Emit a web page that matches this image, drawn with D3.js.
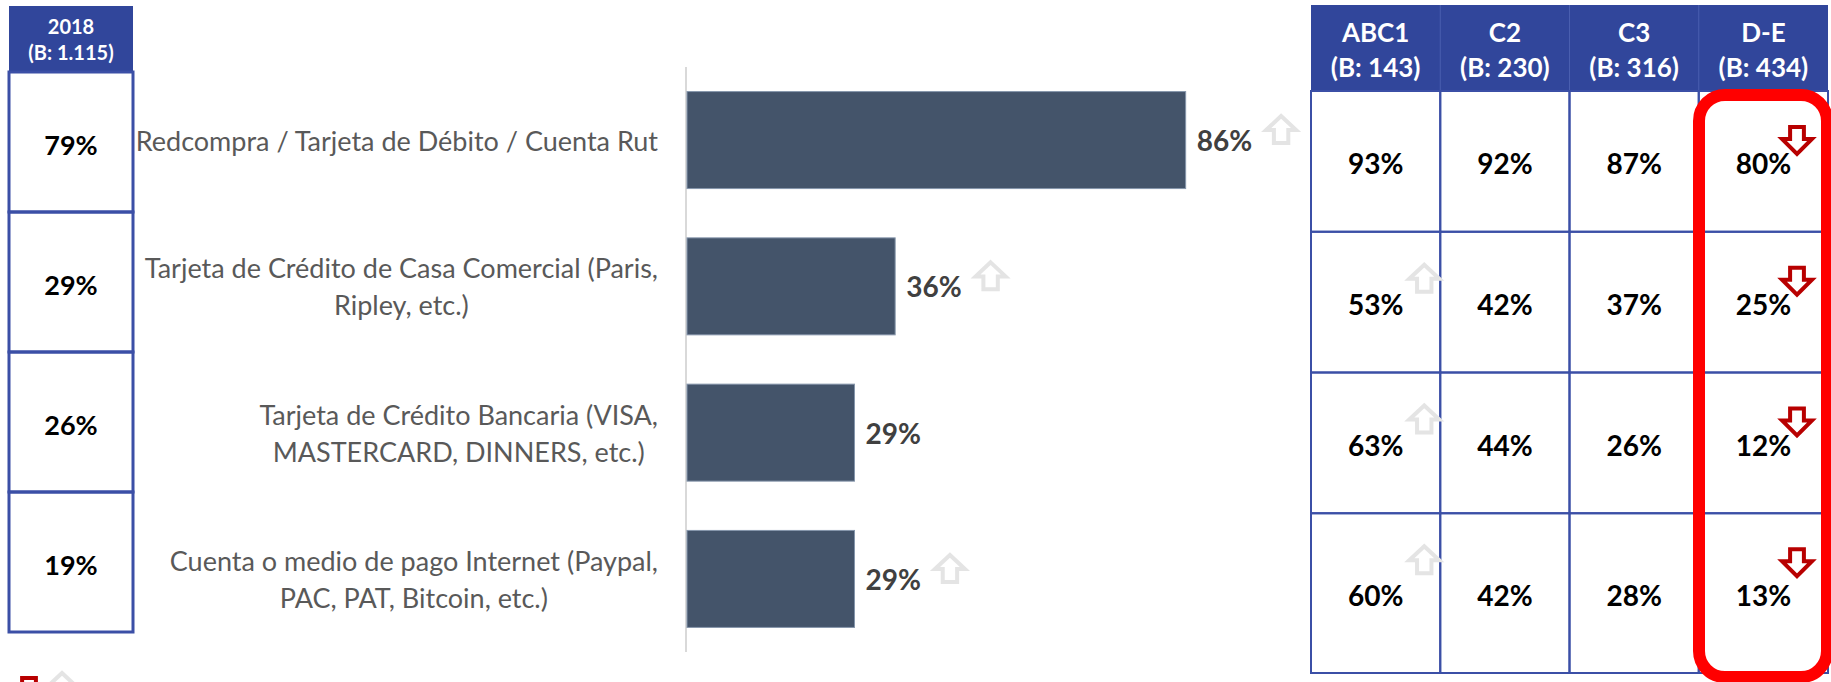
<!DOCTYPE html>
<meta charset="utf-8">
<script src="https://d3js.org/d3.v7.min.js"></script>
<style>
  body { margin: 0; background: #fff; }
  text { font-family: Lato, "Open Sans", sans-serif; }
</style>
<svg id="chart" width="1831" height="682"></svg>
<script>
// ---- data ----
const categories = [
  ["Redcompra / Tarjeta de Débito / Cuenta Rut"],
  ["Tarjeta de Crédito de Casa Comercial (Paris,", "Ripley, etc.)"],
  ["Tarjeta de Crédito Bancaria  (VISA,", "MASTERCARD, DINNERS, etc.)"],
  ["Cuenta o medio de pago Internet (Paypal,", "PAC, PAT, Bitcoin, etc.)"]
];
const values = [86, 36, 29, 29];
const barTrend = ["up", "up", "", "up"];

const prevLabel = ["2018", "(B: 1.115)"];
const prevValues = [79, 29, 26, 19];

const segments = ["ABC1", "C2", "C3", "D-E"];
const segmentBases = ["(B: 143)", "(B: 230)", "(B: 316)", "(B: 434)"];
const segmentValues = [
  [93, 92, 87, 80],
  [53, 42, 37, 25],
  [63, 44, 26, 12],
  [60, 42, 28, 13]
];
const segmentTrend = [
  ["", "", "", "down"],
  ["up", "", "", "down"],
  ["up", "", "", "down"],
  ["up", "", "", "down"]
];

// ---- setup ----
const svg = d3.select("#chart");
const blue = "#31469b", line = "#3b4fa6";
const pct = d => d + "%";

// block arrow, drawn from top-left corner
function arrowPath(w, h, dir) {
  const p = d3.path();
  if (dir === "up") {
    p.moveTo(w / 2, 0); p.lineTo(w, h * 0.52); p.lineTo(w * 0.74, h * 0.52);
    p.lineTo(w * 0.74, h); p.lineTo(w * 0.26, h); p.lineTo(w * 0.26, h * 0.52);
    p.lineTo(0, h * 0.52);
  } else {
    p.moveTo(w * 0.27, 0); p.lineTo(w * 0.73, 0); p.lineTo(w * 0.73, h * 0.44);
    p.lineTo(w, h * 0.44); p.lineTo(w / 2, h); p.lineTo(0, h * 0.44);
    p.lineTo(w * 0.27, h * 0.44);
  }
  p.closePath();
  return p.toString();
}
function drawArrow(g, x, y, dir) {
  g.append("path")
    .attr("transform", `translate(${x},${y})`)
    .attr("d", arrowPath(30, 27, dir))
    .attr("fill", "#fff")
    .attr("stroke", dir === "up" ? "#e4e4e4" : "#b80000")
    .attr("stroke-width", 4)
    .attr("stroke-linejoin", "miter");
}

// ---- bar chart ----
const x = d3.scaleLinear().domain([0, 100]).range([686, 1267]);
const y = d3.scaleBand().domain(d3.range(values.length)).range([67, 652]).paddingInner(0.337).paddingOuter(0.168);

svg.append("line")
  .attr("x1", x(0)).attr("x2", x(0)).attr("y1", 67).attr("y2", 652)
  .attr("stroke", "#d9d9d9").attr("stroke-width", 2);

const bars = svg.append("g");
bars.selectAll("rect")
  .data(values)
  .join("rect")
    .attr("x", x(0) + 1)
    .attr("y", (d, i) => y(i))
    .attr("width", d => x(d) - x(0) - 1)
    .attr("height", y.bandwidth())
    .attr("fill", "#44546a")
    .attr("stroke", "#8696ab")
    .attr("stroke-width", 1);

values.forEach((v, i) => {
  const cy = y(i) + y.bandwidth() / 2;
  const t = bars.append("text")
    .attr("x", x(v) + 11).attr("y", cy)
    .attr("dominant-baseline", "central")
    .attr("font-size", 28).attr("font-weight", 700)
    .attr("fill", "#404040")
    .text(pct(v));
  if (barTrend[i]) {
    const end = x(v) + 11 + t.node().getComputedTextLength();
    drawArrow(bars, end + 14, cy - 24, barTrend[i]);
  }
});

// category labels: block right-aligned at the axis, lines centred in the block
const labels = svg.append("g");
categories.forEach((lines, i) => {
  const cy = y(i) + y.bandwidth() / 2;
  const lh = 37;
  const g = labels.append("g");
  const ts = lines.map((s, k) => g.append("text")
    .attr("y", cy + (k - (lines.length - 1) / 2) * lh)
    .attr("dominant-baseline", "central")
    .attr("text-anchor", "middle")
    .attr("font-size", 27)
    .attr("fill", "#595959")
    .text(s));
  const wMax = d3.max(ts, t => t.node().getComputedTextLength());
  ts.forEach(t => t.attr("x", 658 - wMax / 2));
});

// ---- 2018 column ----
const left = svg.append("g");
const lx0 = 9, lx1 = 133;
const ly = d3.scaleBand().domain(d3.range(prevValues.length)).range([72, 632]);
left.append("rect").attr("x", lx0).attr("y", 6).attr("width", lx1 - lx0).attr("height", 66).attr("fill", blue);
prevLabel.forEach((s, k) => left.append("text")
  .attr("x", (lx0 + lx1) / 2).attr("y", 26 + k * 26)
  .attr("text-anchor", "middle").attr("dominant-baseline", "central")
  .attr("font-size", 20).attr("font-weight", 700).attr("fill", "#fff").text(s));
left.selectAll("rect.cell")
  .data(prevValues)
  .join("rect")
    .attr("class", "cell")
    .attr("x", lx0).attr("y", (d, i) => ly(i))
    .attr("width", lx1 - lx0).attr("height", ly.bandwidth())
    .attr("fill", "none").attr("stroke", line).attr("stroke-width", 3);
left.selectAll("text.val")
  .data(prevValues)
  .join("text")
    .attr("class", "val")
    .attr("x", (lx0 + lx1) / 2).attr("y", (d, i) => ly(i) + ly.bandwidth() / 2 + 2)
    .attr("text-anchor", "middle").attr("dominant-baseline", "central")
    .attr("font-size", 27).attr("font-weight", 700).attr("fill", "#000")
    .text(pct);

// ---- segment table ----
const tbl = svg.append("g");
const cx = d3.scaleBand().domain(d3.range(segments.length)).range([1311, 1828]);
const ry = d3.scaleBand().domain(d3.range(segmentValues.length)).range([91, 654]);
const rowTop = i => ry(i);
const rowBot = i => i === segmentValues.length - 1 ? 673 : ry(i) + ry.bandwidth();

tbl.append("rect").attr("x", 1311).attr("y", 5).attr("width", 1828 - 1311).attr("height", 86).attr("fill", blue);
segments.forEach((s, j) => {
  const mx = cx(j) + cx.bandwidth() / 2;
  tbl.append("text").attr("x", mx).attr("y", 32)
    .attr("text-anchor", "middle").attr("dominant-baseline", "central")
    .attr("font-size", 26).attr("font-weight", 700).attr("fill", "#fff").text(s);
  tbl.append("text").attr("x", mx).attr("y", 67)
    .attr("text-anchor", "middle").attr("dominant-baseline", "central")
    .attr("font-size", 26).attr("font-weight", 700).attr("fill", "#fff").text(segmentBases[j]);
});
// header separators (faint)
d3.range(1, segments.length).forEach(j => tbl.append("line")
  .attr("x1", cx(j)).attr("x2", cx(j)).attr("y1", 5).attr("y2", 91)
  .attr("stroke", "#4a5fb0").attr("stroke-width", 1));

segmentValues.forEach((row, i) => {
  row.forEach((v, j) => {
    tbl.append("rect")
      .attr("x", cx(j)).attr("y", rowTop(i))
      .attr("width", cx.bandwidth()).attr("height", rowBot(i) - rowTop(i))
      .attr("fill", "none").attr("stroke", line).attr("stroke-width", 2);
    tbl.append("text")
      .attr("x", cx(j) + cx.bandwidth() / 2).attr("y", (rowTop(i) + rowBot(i)) / 2 + 2)
      .attr("text-anchor", "middle").attr("dominant-baseline", "central")
      .attr("font-size", 28).attr("font-weight", 700).attr("fill", "#000")
      .text(pct(v));
  });
});
segmentTrend.forEach((row, i) => row.forEach((t, j) => {
  if (!t) return;
  if (t === "up") drawArrow(tbl, cx(j) + cx.bandwidth() - 31, rowTop(i) + 33, t);
  else drawArrow(tbl, cx(j) + cx.bandwidth() - 46, rowTop(i) + 36, t);
}));

// red highlight around D-E
svg.append("rect")
  .attr("x", 1699).attr("y", 95).attr("width", 128).attr("height", 582)
  .attr("rx", 26).attr("ry", 26)
  .attr("fill", "none").attr("stroke", "#ff0000").attr("stroke-width", 12);

// legend icons (cut off at the bottom edge)
drawArrow(svg, 14, 678, "down");
drawArrow(svg, 47, 673, "up");
</script>
